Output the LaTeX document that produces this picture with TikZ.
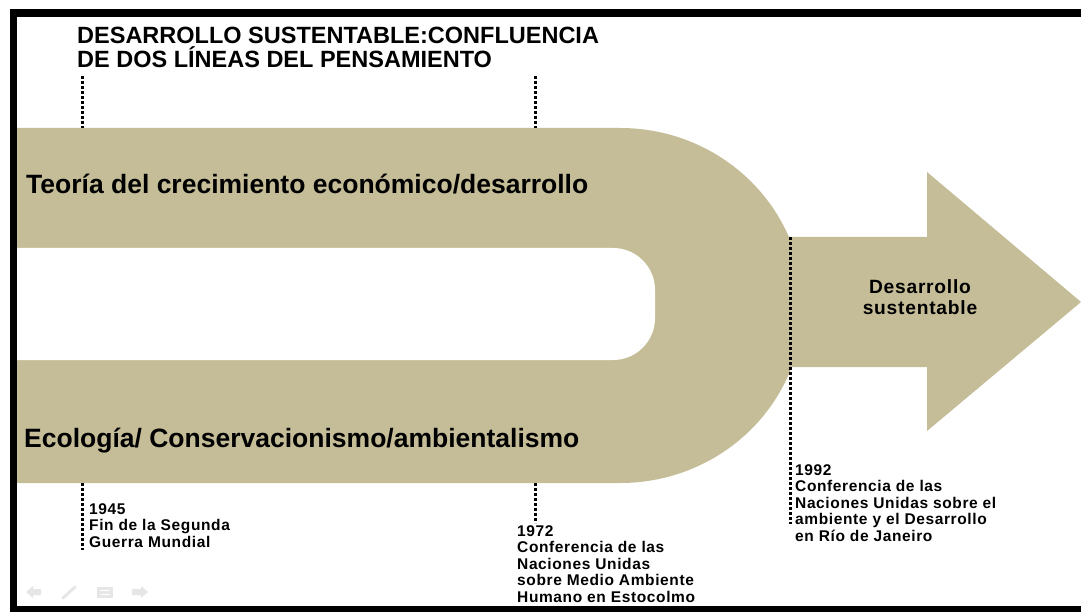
\documentclass[tikz,border=0pt]{standalone}
\usepackage{fontspec}
\setmainfont{Liberation Sans}
\newfontfamily\spaced[LetterSpace=4]{Liberation Sans}
\definecolor{tan}{HTML}{C4BD97}
\definecolor{navgray}{HTML}{E6E6E6}
\begin{document}
\begin{tikzpicture}[x=1pt,y=-1pt,
  lbl/.style={inner sep=0pt, anchor=base west, font=\bfseries},
  small/.style={inner sep=0pt, anchor=north west, align=left, font=\spaced\bfseries\fontsize{15.5}{16.6}\selectfont},
  dotline/.style={line width=3pt, dash pattern=on 3pt off 2pt, black}]
\useasboundingbox (0,0) rectangle (1081,612);
\fill[white] (0,0) rectangle (1081,612);
% arrow
\fill[tan] (780,237) -- (927,237) -- (927,172) -- (1081,302) -- (927,431) -- (927,367) -- (780,367) -- cycle;
% U band
\fill[tan] (17,128) -- (620,128) arc[start angle=-90, end angle=90, x radius=183, y radius=177.5] -- (17,483) -- cycle;
\fill[white, rounded corners=42pt] (-60,248) -- (655,248) -- (655,360) -- (-60,360) -- cycle;
% frame
\fill[black] (10,9) rectangle (1081,17);
\fill[black] (10,9) rectangle (17,612);
\fill[black] (10,606) rectangle (1081,612);
% title
\node[lbl, font=\bfseries\fontsize{23.5}{24}\selectfont] (t1) at (77,44) {DESARROLLO SUSTENTABLE:CONFLUENCIA};
\node[lbl, font=\bfseries\fontsize{23.5}{24}\selectfont] (t2) at (77,68) {DE DOS LÍNEAS DEL PENSAMIENTO};
% band texts
\node[lbl, font=\bfseries\fontsize{26.5}{28}\selectfont] (teo) at (26,194) {Teoría del crecimiento económico/desarrollo};
\node[lbl, font=\bfseries\fontsize{26.5}{28}\selectfont] (eco) at (24,447) {Ecología/ Conservacionismo/ambientalismo};
\node[inner sep=0pt, align=center, font=\spaced\bfseries\fontsize{19.2}{21}\selectfont] (ds) at (920,297) {Desarrollo\\sustentable};
% dotted time markers
\coordinate (a1) at (82,76); \coordinate (a2) at (82,128);
\coordinate (a3) at (82,483); \coordinate (a4) at (82,550);
\coordinate (b1) at (535,76); \coordinate (b2) at (535,128);
\coordinate (b3) at (535,483); \coordinate (b4) at (535,523);
\coordinate (c1) at (790,237); \coordinate (c2) at (790,524);
\draw[dotline] (a1) -- (a2);
\draw[dotline] (a3) -- (a4);
\draw[dotline] (b1) -- (b2);
\draw[dotline] (b3) -- (b4);
\draw[dotline] (c1) -- (c2);
% labels
\node[small] (l1945) at (89,503) {1945\\Fin de la Segunda\\Guerra Mundial};
\node[small] (l1972) at (517,525) {1972\\Conferencia de las\\Naciones Unidas\\sobre Medio Ambiente\\Humano en Estocolmo};
\node[small] (l1992) at (795,464) {1992\\Conferencia de las\\Naciones Unidas sobre el\\ambiente y el Desarrollo\\en Río de Janeiro};
% faint navigation icons
\fill[navgray] (26,592) -- (33,586) -- (33,589) -- (41,589) -- (41,595) -- (33,595) -- (33,598) -- cycle;
\draw[navgray, line width=3pt, line cap=round] (63,598) -- (75,587);
\fill[navgray] (97,587) rectangle (113,598);
\draw[white, line width=0.8pt] (100,590.5) -- (110,590.5) (100,594.5) -- (110,594.5);
\fill[navgray] (148,592) -- (141,586) -- (141,589) -- (132,589) -- (132,595) -- (141,595) -- (141,598) -- cycle;
\end{tikzpicture}
\end{document}
